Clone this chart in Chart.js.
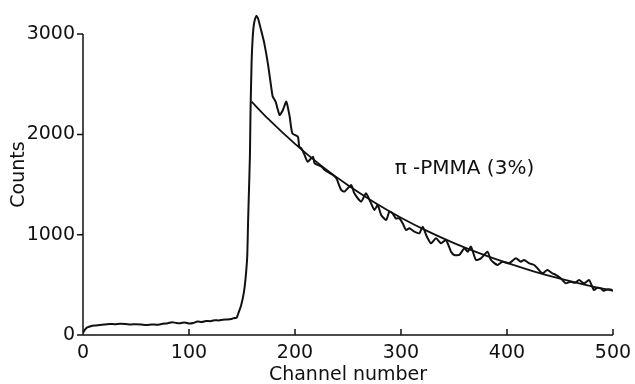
<!DOCTYPE html>
<html>
<head>
<meta charset="utf-8">
<script src="https://cdn.jsdelivr.net/npm/chart.js@4.4.1/dist/chart.umd.min.js"></script>
<style>
  html, body { margin: 0; padding: 0; background: #fff; }
  #wrap { width: 635px; height: 384px; }
</style>
</head>
<body>
<div id="wrap"><canvas id="myChart" width="635" height="384"></canvas></div>
<script>
// spectrum (channel, counts)
var channels = [0, 2, 4, 8, 12, 16, 20, 25, 30, 35, 40, 45, 50, 55, 60, 65, 70, 75, 80, 84, 88, 92, 96, 100,
  104, 108, 112, 116, 120, 124, 128, 132, 136, 140, 143, 145, 147, 149, 151, 152.5, 154, 155, 155.7, 156.6,
  157.5, 158, 159, 160, 161.3, 163.5, 165, 168, 171, 174.5, 177.7, 179, 181.7, 185.5, 188.6, 191.8, 195,
  197.5, 202.7, 204, 206, 209, 212, 217, 218.5, 225, 228, 235.7, 239, 243.6, 246.7, 253, 256, 262.4, 267,
  271, 275, 278, 281.3, 286, 289, 292, 295, 298.5, 301.6, 304.8, 308, 312.6, 317.3, 320.4, 324, 328.3, 333,
  337.8, 342.4, 347.2, 350.3, 355, 359.7, 363, 366, 370.7, 375.4, 381.6, 384.8, 391, 395.8, 402, 408.4, 413,
  416, 421, 425.6, 428.7, 433.4, 438, 442.9, 446, 450.7, 455.4, 460, 464, 468, 472.7, 477.4, 482, 485, 488.4,
  491, 493, 496, 499.4];
var counts = [20, 55, 75, 90, 95, 100, 105, 110, 108, 112, 110, 105, 108, 105, 100, 105, 102, 112, 118, 128, 120, 118, 125, 115,
  120, 135, 130, 140, 138, 148, 145, 152, 155, 160, 170, 172, 230, 290, 380, 480, 640, 800, 1115, 1450,
  1800, 2200, 2700, 2950, 3100, 3180, 3160, 3040, 2910, 2700, 2460, 2376, 2326, 2193, 2243, 2326, 2176,
  2010, 1977, 1877, 1861, 1795, 1728, 1778, 1712, 1678, 1645, 1595, 1562, 1446, 1430, 1495, 1412, 1329, 1413,
  1330, 1246, 1296, 1196, 1147, 1229, 1213, 1163, 1163, 1113, 1047, 1064, 1030, 1014, 1080, 990, 914, 964,
  914, 947, 831, 798, 798, 864, 830, 881, 748, 764, 831, 748, 698, 731, 715, 764, 731,
  748, 715, 698, 665, 615, 648, 615, 600, 565, 515, 532, 520, 548, 515, 548, 449, 470, 465,
  440, 449, 455, 449];

// smooth fitted decay curve
var fitChannels = [159, 175, 200, 225, 250, 275, 300, 325, 350, 375, 400, 425, 450, 475, 500];
var fitCounts = [2326, 2151, 1905, 1686, 1492, 1321, 1169, 1035, 916, 811, 718, 635, 562, 498, 441];

var xTicks = [0, 100, 200, 300, 400, 500];
var yTicks = [0, 1000, 2000, 3000];
var label = 'π -PMMA (3%)';

var ink = '#111';
var fontFamily = '"DejaVu Sans", sans-serif';

function toPoints(xs, ys) {
  return xs.map(function (x, i) { return { x: x, y: ys[i] }; });
}

// axes, inward x ticks, outward y ticks and the sample label
var axesPlugin = {
  id: 'axesPlugin',
  afterDatasetsDraw: function (chart) {
    var c = chart.ctx;
    var xs = chart.scales.x, ys = chart.scales.y;
    var y0 = ys.getPixelForValue(0);
    var x0 = xs.getPixelForValue(0);
    c.save();
    c.strokeStyle = ink;
    c.lineWidth = 1.5;
    c.beginPath();
    c.moveTo(x0, y0);
    c.lineTo(xs.getPixelForValue(500), y0);
    c.moveTo(x0, y0);
    c.lineTo(x0, ys.getPixelForValue(3000));
    xTicks.forEach(function (v) {
      if (v === 0) return;
      var px = xs.getPixelForValue(v);
      c.moveTo(px, y0);
      c.lineTo(px, y0 - 6);
    });
    yTicks.forEach(function (v) {
      var py = ys.getPixelForValue(v);
      c.moveTo(x0, py);
      c.lineTo(x0 - 6, py);
    });
    c.stroke();
    c.fillStyle = ink;
    c.font = '20px ' + fontFamily;
    c.textBaseline = 'middle';
    c.textAlign = 'left';
    c.fillText(label, xs.getPixelForValue(294), ys.getPixelForValue(1660));
    c.restore();
  }
};

var ctx = document.getElementById('myChart').getContext('2d');

var myChart = new Chart(ctx, {
  type: 'line',
  data: {
    datasets: [
      {
        label: 'Counts',
        data: toPoints(channels, counts),
        borderColor: ink,
        borderWidth: 2,
        pointRadius: 0,
        tension: 0.2,
        fill: false
      },
      {
        label: 'Fit',
        data: toPoints(fitChannels, fitCounts),
        borderColor: ink,
        borderWidth: 1.8,
        pointRadius: 0,
        cubicInterpolationMode: 'monotone',
        fill: false
      }
    ]
  },
  options: {
    responsive: false,
    animation: false,
    devicePixelRatio: 1,
    layout: { padding: { top: 14, right: 22, left: 0, bottom: 0 } },
    plugins: {
      legend: { display: false },
      tooltip: { enabled: false }
    },
    scales: {
      x: {
        type: 'linear',
        min: 0,
        max: 500,
        afterBuildTicks: function (s) { s.ticks = xTicks.map(function (v) { return { value: v }; }); },
        afterFit: function (s) { s.height = 49; s.paddingLeft = 0; s.paddingRight = 0; },
        grid: { display: false, drawTicks: false },
        border: { display: false },
        ticks: {
          color: ink, padding: 7, font: { family: fontFamily, size: 19 },
          callback: function (v) { return String(v); }
        },
        title: {
          display: true,
          text: 'Channel number',
          color: ink,
          padding: { top: 0, bottom: -2 },
          font: { family: fontFamily, size: 19 }
        }
      },
      y: {
        min: 0,
        max: 3200,
        afterBuildTicks: function (s) { s.ticks = yTicks.map(function (v) { return { value: v }; }); },
        afterFit: function (s) { s.width = 83; s.paddingTop = 0; s.paddingBottom = 0; },
        grid: { display: false, drawTicks: false },
        border: { display: false },
        ticks: {
          color: ink, padding: 8, font: { family: fontFamily, size: 19 },
          callback: function (v) { return String(v); }
        },
        title: {
          display: true,
          text: 'Counts',
          color: ink,
          padding: { top: 8, bottom: 0 },
          font: { family: fontFamily, size: 19 }
        }
      }
    }
  },
  plugins: [axesPlugin]
});
</script>
</body>
</html>
